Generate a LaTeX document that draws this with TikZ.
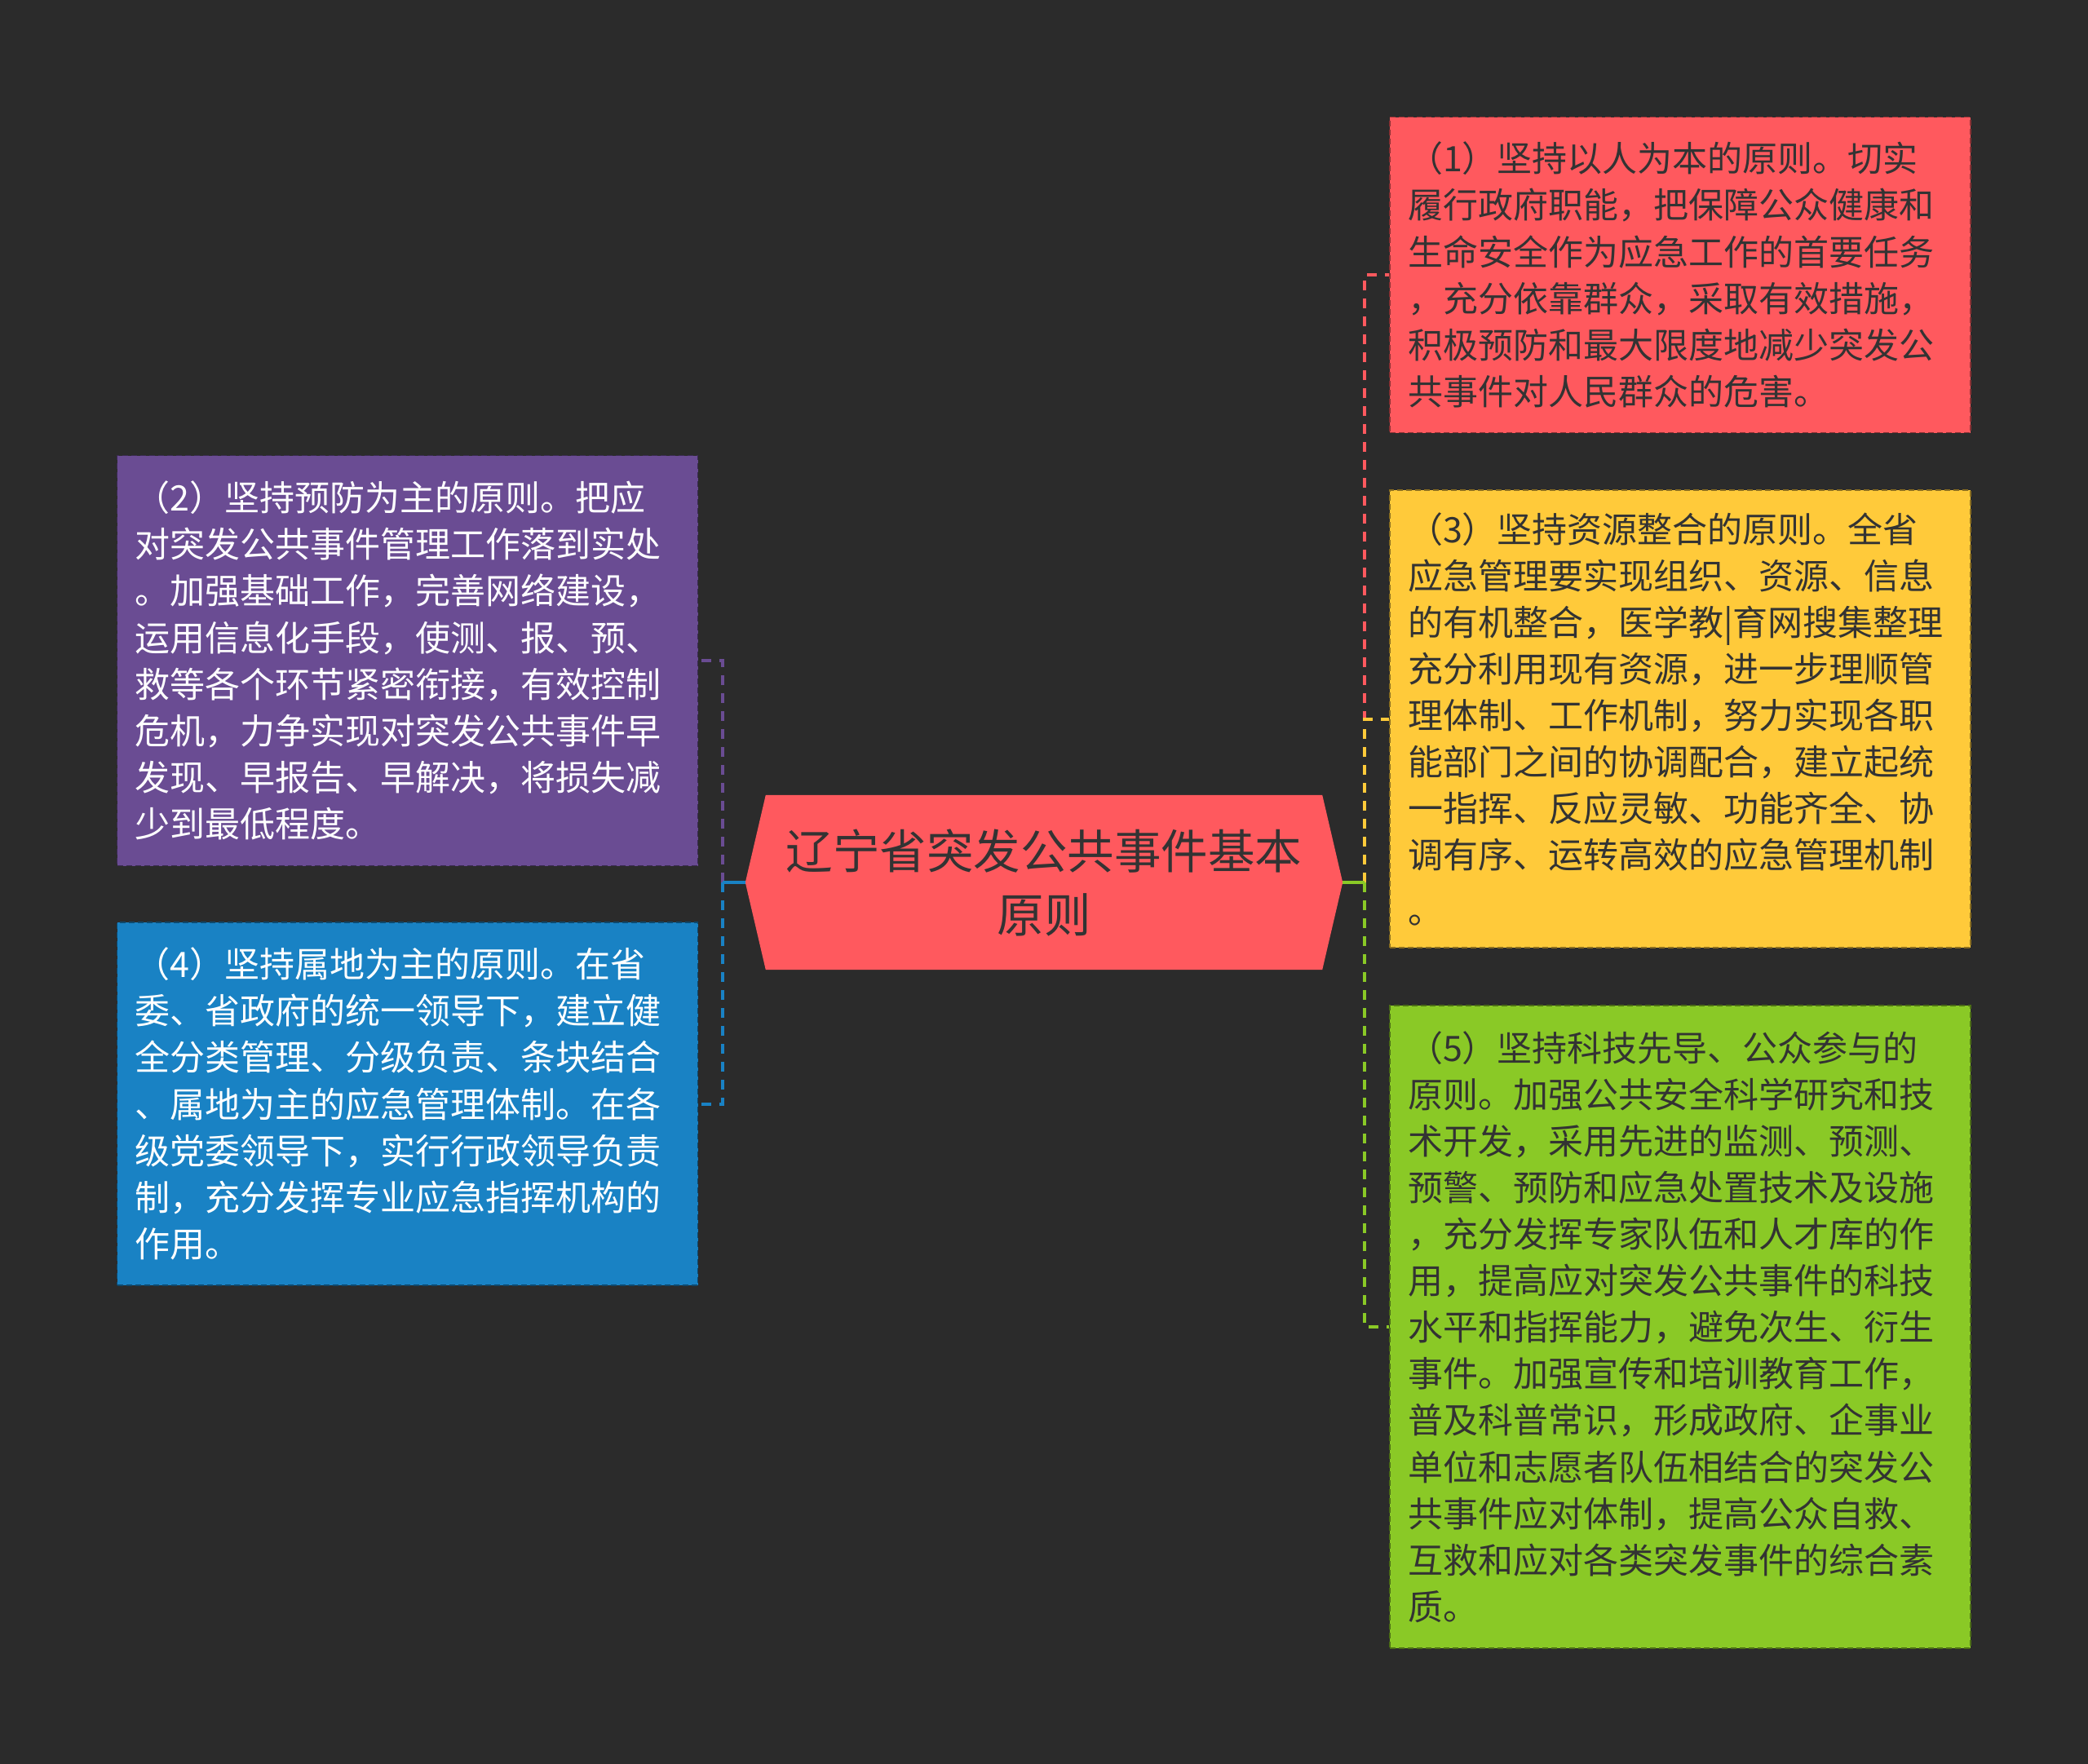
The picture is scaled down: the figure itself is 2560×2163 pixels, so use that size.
\documentclass[tikz,border=0pt]{standalone}
\usepackage{fontspec}
\newfontfamily\cjk{Noto Sans CJK SC}
\definecolor{bg}{HTML}{2B2B2B}
\definecolor{cred}{HTML}{FF595E}
\definecolor{cyel}{HTML}{FFCA3A}
\definecolor{cgrn}{HTML}{8AC926}
\definecolor{cblu}{HTML}{1982C4}
\definecolor{cpur}{HTML}{6A4C93}
\definecolor{ctxt}{HTML}{333333}
\pgfdeclarelayer{bgl}
\pgfdeclarelayer{hexl}
\pgfsetlayers{bgl,hexl,main}
\begin{document}
\begin{tikzpicture}[x=1pt,y=-1pt,
  box/.style={rectangle, inner xsep=22pt, inner ysep=0pt, text width=668pt, align=left,
    font=\cjk\fontsize{43}{57.1}\selectfont, dash pattern=on 7pt off 4pt, line width=1.5pt},
  conn/.style={line width=4pt, dash pattern=on 12pt off 10pt},
  stub/.style={line width=4pt}]
\begin{pgfonlayer}{bgl}
\fill[bg] (0,0) rectangle (2560,2163);
\end{pgfonlayer}
\useasboundingbox (0,0) rectangle (2560,2163);

% central node
\node[font=\cjk\fontsize{57.5}{78}\selectfont, text=ctxt, align=center,
      minimum width=732pt, minimum height=214pt, inner sep=0pt] (c) at (1280,1082)
  {辽宁省突发公共事件基本\\原则};
\begin{pgfonlayer}{hexl}
\fill[cred] (c.west) -- ([xshift=25pt]c.north west) -- ([xshift=-25pt]c.north east)
  -- (c.east) -- ([xshift=-25pt]c.south east) -- ([xshift=25pt]c.south west) -- cycle;
\end{pgfonlayer}

% right boxes
\node[box, fill=cred, draw=cred!55!black, text=ctxt, minimum height=387pt] (r1) at (2060,337)
{（1）坚持以人为本的原则。切实\\
履行政府职能，把保障公众健康和\\
生命安全作为应急工作的首要任务\\
，充分依靠群众，采取有效措施，\\
积极预防和最大限度地减少突发公\\
共事件对人民群众的危害。};

\node[box, fill=cyel, draw=cyel!55!black, text=ctxt, minimum height=561pt] (r3) at (2060,881.5)
{（3）坚持资源整合的原则。全省\\
应急管理要实现组织、资源、信息\\
的有机整合，医学教|育网搜集整理\\
充分利用现有资源，进一步理顺管\\
理体制、工作机制，努力实现各职\\
能部门之间的协调配合，建立起统\\
一指挥、反应灵敏、功能齐全、协\\
调有序、运转高效的应急管理机制\\[10pt]
。};

\node[box, fill=cgrn, draw=cgrn!55!black, text=ctxt, minimum height=788pt] (r5) at (2060,1627)
{（5）坚持科技先导、公众参与的\\
原则。加强公共安全科学研究和技\\
术开发，采用先进的监测、预测、\\
预警、预防和应急处置技术及设施\\
，充分发挥专家队伍和人才库的作\\
用，提高应对突发公共事件的科技\\
水平和指挥能力，避免次生、衍生\\
事件。加强宣传和培训教育工作，\\
普及科普常识，形成政府、企事业\\
单位和志愿者队伍相结合的突发公\\
共事件应对体制，提高公众自救、\\
互救和应对各类突发事件的综合素\\
质。};

% left boxes
\node[box, fill=cpur, draw=cpur!55!black, text=white, minimum height=503pt] (l2) at (499.5,810)
{（2）坚持预防为主的原则。把应\\
对突发公共事件管理工作落到实处\\
。加强基础工作，完善网络建设，\\
运用信息化手段，使测、报、预、\\
救等各个环节紧密衔接，有效控制\\
危机，力争实现对突发公共事件早\\
发现、早报告、早解决，将损失减\\
少到最低程度。};

\node[box, fill=cblu, draw=cblu!55!black, text=white, minimum height=445pt] (l4) at (499.5,1353.5)
{（4）坚持属地为主的原则。在省\\
委、省政府的统一领导下，建立健\\
全分类管理、分级负责、条块结合\\
、属地为主的应急管理体制。在各\\
级党委领导下，实行行政领导负责\\
制，充分发挥专业应急指挥机构的\\
作用。};

% connectors
\coordinate (tr) at (1673,1082);
\coordinate (tl) at (886,1082);
\draw[conn, cred] (tr) |- (r1.west);
\draw[conn, cyel] (tr) |- (r3.west);
\draw[conn, cgrn] (tr) |- (r5.west);
\draw[stub, cgrn] (c.east) -- (tr);
\draw[conn, cpur] (tl) |- (l2.east);
\draw[conn, cblu] (tl) |- (l4.east);
\draw[stub, cblu] (c.west) -- (tl);
\end{tikzpicture}
\end{document}
